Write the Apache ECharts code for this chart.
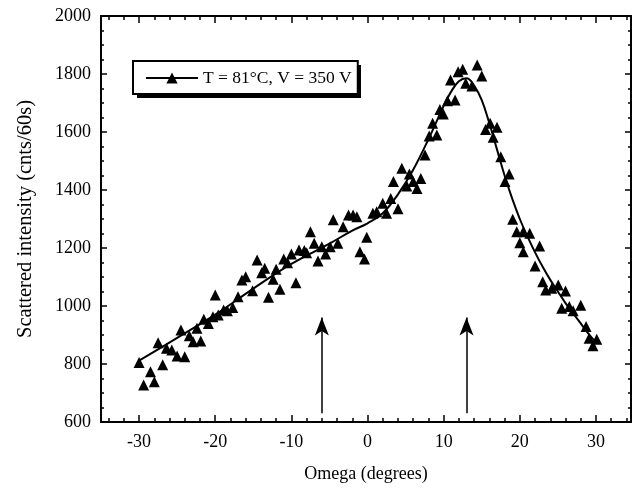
<!DOCTYPE html>
<html><head><meta charset="utf-8">
<script src="https://cdn.jsdelivr.net/npm/echarts@6/dist/echarts.min.js"></script>
<style>html,body{margin:0;padding:0;background:#fff}#c{width:640px;height:491px}</style>
</head><body><div id="c"></div><script>
// measured data points (Omega in degrees, intensity in cnts/60s)
const omega = [-30.0,-29.4,-28.5,-28.0,-27.5,-26.9,-26.4,-25.7,-25.0,-24.5,-24.0,-23.4,-22.9,-22.4,-21.9,-21.5,-20.9,-20.3,-20.0,-19.6,-18.9,-18.4,-17.7,-17.0,-16.5,-16.0,-15.1,-14.5,-13.9,-13.5,-13.0,-12.4,-12.0,-11.5,-11.0,-10.5,-10.0,-9.4,-9.0,-8.3,-8.0,-7.5,-7.0,-6.5,-6.0,-5.5,-4.9,-4.5,-3.9,-3.2,-2.5,-1.9,-1.4,-1.0,-0.4,-0.1,0.7,1.2,2.0,2.5,3.05,3.4,4.0,4.5,5.15,5.5,6.0,6.5,7.0,7.55,8.1,8.55,9.1,9.5,9.95,10.5,10.9,11.5,11.9,12.5,12.9,13.7,14.4,15.0,15.5,16.1,16.5,17.0,17.5,18.05,18.6,19.06,19.6,20.0,20.45,20.45,21.3,22.0,22.6,23.0,23.4,24.2,25.05,25.5,26.0,26.5,27.0,28.0,28.7,29.1,29.6,30.1];
const intensity = [805,728,773,739,873,797,854,848,828,917,825,897,877,923,879,954,940,963,1038,969,986,984,995,1032,1090,1101,1053,1159,1115,1130,1030,1092,1127,1058,1162,1149,1179,1080,1193,1191,1184,1256,1216,1155,1204,1179,1204,1297,1216,1273,1314,1314,1308,1187,1162,1237,1320,1325,1354,1320,1371,1429,1335,1475,1414,1455,1429,1405,1440,1521,1586,1630,1590,1678,1662,1708,1779,1710,1808,1816,1768,1759,1831,1793,1609,1630,1582,1616,1515,1429,1455,1299,1256,1218,1256,1187,1251,1138,1207,1084,1055,1061,1072,992,1052,998,984,1003,929,889,863,885];
// fitted curve
const fitOmega = [-30,-25,-20,-15,-10,-5,-2,0,2,4,6,8,10,11,12,13,14,15,16,17,18,19,20,21,22,23,24,25,26,27,28,29,30];
const fitIntensity = [812,890,970,1060,1145,1215,1260,1285,1320,1385,1470,1575,1690,1740,1775,1785,1760,1710,1630,1540,1450,1370,1300,1240,1185,1135,1090,1050,1010,975,940,905,875];
const xMajorTicks = [-30,-20,-10,0,10,20,30];
const xMinorTicks = [-34,-32,-28,-26,-24,-22,-18,-16,-14,-12,-8,-6,-4,-2,2,4,6,8,12,14,16,18,22,24,26,28,32,34];
const arrowOmega = [-6, 13];
const arrowFrom = 630;
const arrowTo = 960;
const seriesName = 'T = 81°C, V = 350 V';
const xTitle = 'Omega (degrees)';
const yTitle = 'Scattered intensity (cnts/60s)';

const FONT = 'Liberation Serif';
const chart = echarts.init(document.getElementById('c'));
const black = '#000';
const xBase = {type:'value', min:-35, max:34.6, splitLine:{show:false}, axisPointer:{show:false}};
const tickLine = {color:black, width:1.5};
chart.setOption({
  animation:false,
  backgroundColor:'#fff',
  grid:{left:101, right:9, top:16, bottom:69, containLabel:false},
  graphic:[
    {type:'rect', left:137, top:65, z:0, shape:{width:224, height:33}, style:{fill:black}}
  ],
  legend:{
    data:[seriesName], left:133, top:61, orient:'horizontal', z:10,
    padding:[8,6,7,12], itemWidth:52, itemHeight:14, itemGap:0,
    backgroundColor:'#fff', borderColor:black, borderWidth:2,
    textStyle:{fontFamily:FONT, fontSize:17.5, color:black}
  },
  xAxis:[
    Object.assign({}, xBase, {position:'bottom',
      axisLine:{onZero:false, lineStyle:{color:black, width:2}},
      axisTick:{inside:true, length:7, customValues:xMajorTicks, lineStyle:tickLine},
      axisLabel:{customValues:xMajorTicks, fontFamily:FONT, fontSize:18, color:black, margin:11},
      name:xTitle, nameLocation:'middle', nameGap:43,
      nameTextStyle:{fontFamily:FONT, fontSize:18, color:black}}),
    Object.assign({}, xBase, {position:'bottom',
      axisLine:{show:false, onZero:false},
      axisTick:{inside:true, length:4, customValues:xMinorTicks, lineStyle:tickLine},
      axisLabel:{show:false}}),
    Object.assign({}, xBase, {position:'top',
      axisLine:{onZero:false, lineStyle:{color:black, width:2}},
      axisTick:{inside:true, length:7, customValues:xMajorTicks, lineStyle:tickLine},
      axisLabel:{show:false}}),
    Object.assign({}, xBase, {position:'top',
      axisLine:{show:false, onZero:false},
      axisTick:{inside:true, length:4, customValues:xMinorTicks, lineStyle:tickLine},
      axisLabel:{show:false}})
  ],
  yAxis:[
    {type:'value', min:600, max:2000, interval:200, position:'left',
      splitLine:{show:false},
      axisLine:{show:true, onZero:false, lineStyle:{color:black, width:2}},
      axisTick:{show:true, inside:true, length:6, lineStyle:tickLine},
      minorTick:{show:true, splitNumber:4, length:3, lineStyle:tickLine},
      axisLabel:{fontFamily:FONT, fontSize:18, color:black, margin:10, formatter:v=>String(v)},
      name:yTitle, nameLocation:'middle', nameGap:65,
      nameTextStyle:{fontFamily:FONT, fontSize:20.5, color:black}},
    {type:'value', min:600, max:2000, interval:200, position:'right',
      splitLine:{show:false},
      axisLine:{show:true, onZero:false, lineStyle:{color:black, width:2}},
      axisTick:{show:true, inside:true, length:6, lineStyle:tickLine},
      minorTick:{show:true, splitNumber:4, length:3, lineStyle:tickLine},
      axisLabel:{show:false}}
  ],
  series:[
    {type:'scatter', name:'points', xAxisIndex:0, yAxisIndex:0,
      symbol:'triangle', symbolSize:11, itemStyle:{color:black, opacity:1},
      data: omega.map((x,i)=>[x, intensity[i]]), z:3},
    {type:'line', name:seriesName, xAxisIndex:0, yAxisIndex:0,
      symbol:'triangle', showSymbol:false, smooth:0.4,
      lineStyle:{color:black, width:2}, itemStyle:{color:black},
      data: fitOmega.map((x,i)=>[x, fitIntensity[i]]), z:4},
    {type:'lines', coordinateSystem:'cartesian2d', xAxisIndex:0, yAxisIndex:0,
      symbol:'none',
      lineStyle:{color:black, width:1.5, opacity:1},
      data: arrowOmega.map(x=>({coords:[[x, arrowFrom],[x, arrowTo]]})), z:5},
    {type:'scatter', name:'arrowheads', xAxisIndex:0, yAxisIndex:0,
      symbol:'arrow', symbolSize:[10.5,18], symbolOffset:[0,0],
      itemStyle:{color:black, opacity:1}, silent:true,
      data: arrowOmega.map(x=>[x, arrowTo]), z:5}
  ]
});
</script></body></html>
